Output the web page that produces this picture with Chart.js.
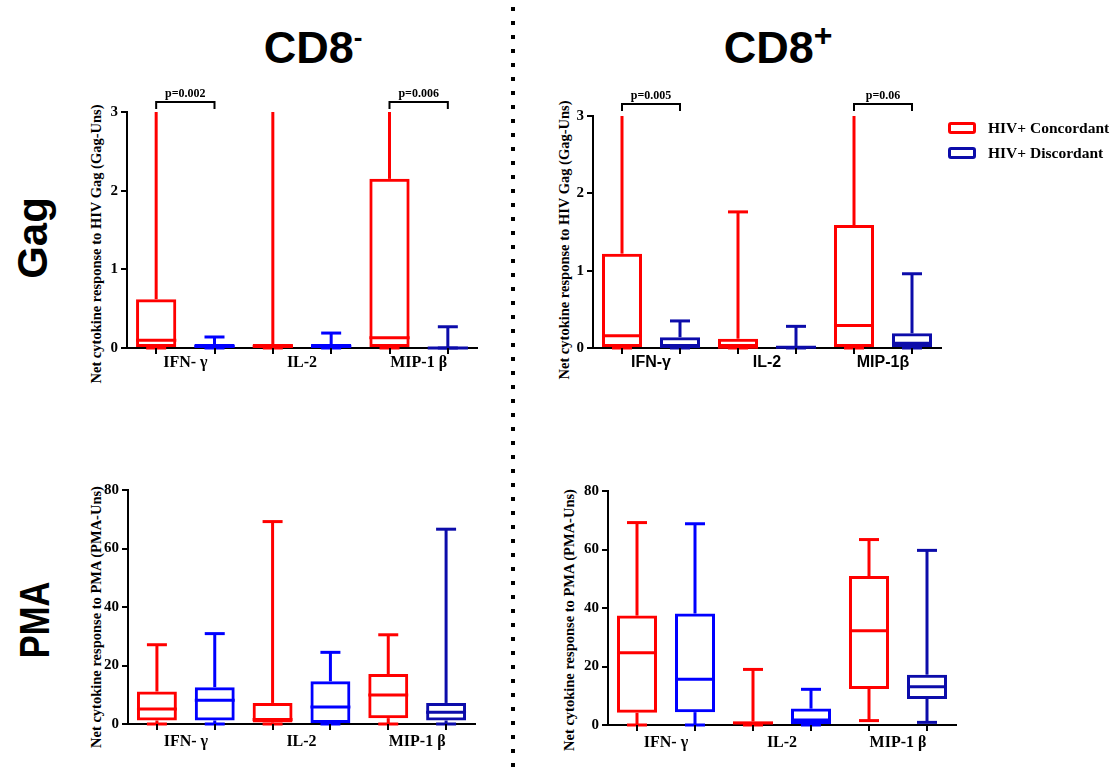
<!DOCTYPE html>
<html lang="en">
<head>
  <meta charset="UTF-8" />
  <title>CD8- / CD8+ cytokine responses</title>
  <script src="https://cdn.jsdelivr.net/npm/chart.js"></script>
  <style>
    body {
      margin: 0;
      width: 1114px;
      height: 771px;
      background: #fff;
      position: relative;
      overflow: hidden;
      font-family: 'Liberation Sans', Arial, sans-serif;
    }
    canvas { position: absolute; }
    .colTitle {
      position: absolute;
      width: 240px;
      text-align: center;
      font: bold 45px 'Liberation Sans', Arial, sans-serif;
      line-height: 45px;
      color: #000;
    }
    .colTitle sup { line-height: 0; vertical-align: 17px; }
    .rowLabel, .yTitle {
      position: absolute;
      white-space: nowrap;
      transform: translate(-50%, -50%) rotate(-90deg);
      color: #000;
    }
    .rowLabel { font: bold 42px 'Liberation Sans', Arial, sans-serif; }
    .yTitle { font: bold 14.5px 'Liberation Serif', 'Times New Roman', serif; }
    .divider {
      position: absolute;
      left: 511px; top: 7px;
      width: 4px; height: 764px;
      background: repeating-linear-gradient(to bottom, #000 0 4px, transparent 4px 14px);
    }
    .legend {
      position: absolute;
      left: 948px; top: 115px;
      font: bold 15.5px 'Liberation Serif', 'Times New Roman', serif;
      color: #000;
    }
    .legend div { height: 25px; display: flex; align-items: center; }
    .legend span.sw {
      display: inline-block;
      width: 22px; height: 6px;
      border: 3px solid;
      border-radius: 3px;
      margin-right: 12px;
    }
  </style>
</head>
<body>
  <div class="colTitle" style="left:193px; top:25px;">CD8<sup style="font-size:26px;">-</sup></div>
  <div class="colTitle" style="left:658px; top:25px;">CD8<sup style="font-size:32px;">+</sup></div>

  <div class="rowLabel" style="left:33px; top:238px;">Gag</div>
  <div class="rowLabel" style="left:35px; top:620px; transform: translate(-50%, -50%) rotate(-90deg) scaleX(0.82);">PMA</div>

  <div class="yTitle" style="left:96px; top:244px;">Net cytokine response to HIV Gag (Gag-Uns)</div>
  <div class="yTitle" style="left:564px; top:240px;">Net cytokine response to HIV Gag (Gag-Uns)</div>
  <div class="yTitle" style="left:96px; top:617px;">Net cytokine response to PMA (PMA-Uns)</div>
  <div class="yTitle" style="left:569px; top:620px;">Net cytokine response to PMA (PMA-Uns)</div>

  <div class="divider"></div>

  <canvas id="gagNeg" width="420" height="330" style="left:80px; top:60px;"></canvas>
  <canvas id="gagPos" width="420" height="330" style="left:545px; top:60px;"></canvas>
  <canvas id="pmaNeg" width="420" height="330" style="left:80px; top:440px;"></canvas>
  <canvas id="pmaPos" width="420" height="330" style="left:560px; top:440px;"></canvas>

  <div class="legend">
    <div><span class="sw" style="border-color:#ff0000;"></span>HIV+ Concordant</div>
    <div><span class="sw" style="border-color:#0c0caa;"></span>HIV+ Discordant</div>
  </div>

  <script>
    // categories (serif labels for most panels, sans for the CD8+ Gag panel)
    const categories = ['IFN- γ', 'IL-2', 'MIP-1 β'];
    const categoriesSans = ['IFN-γ', 'IL-2', 'MIP-1β'];

    // each entry: [min, q1, median, q3, max] per category
    const gagNegConcordant = [[0, 0, 0.10, 0.62, 3], [0, 0, 0.02, 0.05, 3], [0, 0, 0.13, 2.15, 3]];
    const gagNegDiscordant = [[0, 0, 0.02, 0.05, 0.14], [0, 0, 0.02, 0.05, 0.19], [0, 0, 0, 0.01, 0.27]];
    const gagPosConcordant = [[0, 0, 0.16, 1.22, 3], [0, 0, 0.01, 0.12, 1.76], [0, 0, 0.29, 1.59, 3]];
    const gagPosDiscordant = [[0, 0, 0.02, 0.14, 0.35], [0, 0, 0.01, 0.02, 0.28], [0, 0, 0.06, 0.19, 0.96]];
    const pmaNegConcordant = [[0, 1.2, 5.1, 11.1, 27.1], [0, 0.5, 1.5, 7.2, 69.2], [0, 2.0, 9.9, 17.1, 30.5]];
    const pmaNegDiscordant = [[0, 1.2, 8.1, 12.6, 30.9], [0, 0.3, 5.8, 14.6, 24.5], [0, 1.2, 4.0, 7.2, 66.6]];
    const pmaPosConcordant = [[0, 4.2, 24.7, 37.4, 69.2], [0, 0.3, 0.7, 1.2, 19.0], [1.5, 12.3, 32.2, 50.9, 63.4]];
    const pmaPosDiscordant = [[0, 4.4, 15.6, 38.1, 68.8], [0, 0.3, 1.7, 5.6, 12.2], [0.9, 8.9, 13.1, 17.2, 59.7]];

    // p-value labels over the two groups of a category
    const gagNegPvalues = ['p=0.002', null, 'p=0.006'];
    const gagPosPvalues = ['p=0.005', null, 'p=0.06'];

    const red = '#ff0000';
    const blue = '#0000ff';
    const navy = '#0c0caa';

    const serifBold = { family: "'Liberation Serif', 'Times New Roman', serif", weight: 'bold', size: 16 };
    const sansBold = { family: "'Liberation Sans', Arial, sans-serif", weight: 'bold', size: 16 };

    // whiskers, caps, medians and x tick marks drawn from the box stats
    const boxPlugin = {
      id: 'boxWhiskers',
      afterDatasetsDraw(chart) {
        const ctx = chart.ctx;
        const y = chart.scales.y;
        const py = v => y.getPixelForValue(v);
        const seg = (x0, y0, x1, y1) => { ctx.beginPath(); ctx.moveTo(x0, y0); ctx.lineTo(x1, y1); ctx.stroke(); };
        chart.data.datasets.forEach((ds, di) => {
          chart.getDatasetMeta(di).data.forEach((bar, i) => {
            const [lo, q1, med, q3, hi] = ds.stats[i];
            const x = bar.x, w = bar.width;
            ctx.save();
            ctx.strokeStyle = Array.isArray(ds.borderColor) ? ds.borderColor[i] : ds.borderColor;
            ctx.lineWidth = 3;
            seg(x, py(q3), x, py(hi));
            seg(x, py(q1), x, py(lo));
            if (hi < y.max) seg(x - 10, py(hi), x + 10, py(hi));
            seg(x - 10, py(lo), x + 10, py(lo));
            seg(x - w / 2, py(med), x + w / 2, py(med));
            ctx.restore();
          });
        });
      },
      afterDraw(chart) {
        const ctx = chart.ctx;
        const bottom = chart.chartArea.bottom;
        ctx.save();
        ctx.strokeStyle = '#000';
        ctx.lineWidth = 2;
        chart.data.datasets.forEach((ds, di) => {
          chart.getDatasetMeta(di).data.forEach(bar => {
            ctx.beginPath();
            ctx.moveTo(Math.round(bar.x), bottom);
            ctx.lineTo(Math.round(bar.x), bottom + 6);
            ctx.stroke();
          });
        });
        ctx.restore();
      }
    };

    const pvaluePlugin = {
      id: 'pvalues',
      afterDraw(chart, args, opts) {
        const labels = opts.labels || [];
        const ctx = chart.ctx;
        const top = chart.chartArea.top;
        const m0 = chart.getDatasetMeta(0).data;
        const m1 = chart.getDatasetMeta(1).data;
        ctx.save();
        ctx.strokeStyle = '#000';
        ctx.fillStyle = '#000';
        ctx.lineWidth = 2;
        ctx.font = "bold 12px 'Liberation Serif', 'Times New Roman', serif";
        ctx.textAlign = 'center';
        ctx.textBaseline = 'alphabetic';
        labels.forEach((txt, i) => {
          if (!txt) return;
          const x0 = m0[i].x, x1 = m1[i].x;
          const yb = top - 10 - opts.lift;
          ctx.beginPath();
          ctx.moveTo(x0, yb + 7);
          ctx.lineTo(x0, yb);
          ctx.lineTo(x1, yb);
          ctx.lineTo(x1, yb + 7);
          ctx.stroke();
          ctx.fillText(txt, (x0 + x1) / 2, yb - 5);
        });
        ctx.restore();
      }
    };

    function makePanel(id, cats, conc, disc, discColors, yMax, yStep, xFont, box, pvals) {
      return new Chart(document.getElementById(id), {
        type: 'bar',
        data: {
          labels: cats,
          datasets: [
            { label: 'HIV+ Concordant', data: conc.map(s => [s[1], s[3]]), stats: conc,
              borderColor: red, backgroundColor: 'rgba(0,0,0,0)', borderWidth: 3, borderSkipped: false },
            { label: 'HIV+ Discordant', data: disc.map(s => [s[1], s[3]]), stats: disc,
              borderColor: discColors, backgroundColor: 'rgba(0,0,0,0)', borderWidth: 3, borderSkipped: false }
          ]
        },
        options: {
          responsive: false,
          animation: false,
          layout: { padding: { top: box.padTop, right: box.padRight, left: 0, bottom: 0 } },
          datasets: { bar: { categoryPercentage: 1, barPercentage: 0.69 } },
          plugins: {
            legend: { display: false },
            tooltip: { enabled: false },
            pvalues: { labels: pvals || [], lift: box.lift || 0 }
          },
          scales: {
            x: {
              grid: { display: false, drawTicks: false },
              border: { color: '#000', width: 2 },
              ticks: { color: '#000', font: xFont, padding: box.xPad },
              afterFit: s => { s.height = box.xHeight; }
            },
            y: {
              min: 0, max: yMax,
              ticks: { stepSize: yStep, color: '#000', padding: 3,
                       font: { family: "'Liberation Serif', 'Times New Roman', serif", weight: 'bold', size: 15 } },
              grid: { drawOnChartArea: false, drawTicks: true, tickLength: 6, color: '#000', lineWidth: 2 },
              border: { color: '#000', width: 2 },
              afterFit: s => { s.width = box.yWidth; }
            }
          }
        },
        plugins: [boxPlugin, pvaluePlugin]
      });
    }

    makePanel('gagNeg', categories, gagNegConcordant, gagNegDiscordant, [blue, blue, navy], 3, 1, serifBold,
      { yWidth: 47, padTop: 52, padRight: 23, xHeight: 42, xPad: 5 }, gagNegPvalues);
    makePanel('gagPos', categoriesSans, gagPosConcordant, gagPosDiscordant, [navy, navy, navy], 3, 1, sansBold,
      { yWidth: 48, padTop: 56, padRight: 24, xHeight: 42, xPad: 5, lift: 2 }, gagPosPvalues);
    makePanel('pmaNeg', categories, pmaNegConcordant, pmaNegDiscordant, [blue, blue, navy], 80, 20, serifBold,
      { yWidth: 48, padTop: 50, padRight: 25, xHeight: 46, xPad: 8 });
    makePanel('pmaPos', categories, pmaPosConcordant, pmaPosDiscordant, [blue, blue, navy], 80, 20, serifBold,
      { yWidth: 48, padTop: 51, padRight: 24, xHeight: 45, xPad: 8 });
  </script>
</body>
</html>
